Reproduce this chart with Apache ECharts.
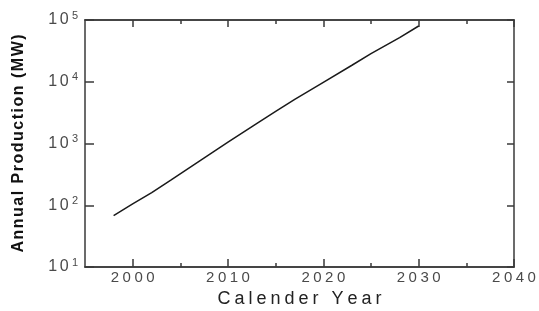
<!DOCTYPE html>
<html lang="en">
<head>
    <meta charset="UTF-8">
    <title>Annual Production</title>
    <script src="https://cdn.jsdelivr.net/npm/echarts@6/dist/echarts.min.js"></script>
    <style>
        html, body { margin: 0; padding: 0; background: #fff; }
        #main { width: 539px; height: 311px; }
    </style>
</head>
<body>
    <div id="main"></div>
    <script>
        // values
        let years = [1998, 2000, 2002, 2004, 2007, 2010, 2013, 2015, 2017, 2020, 2023, 2025, 2028, 2030]
        let production = [68, 105, 160, 255, 520, 1050, 2100, 3300, 5200, 9800, 18500, 28500, 52000, 80000]
        let majorYears = [2000, 2010, 2020, 2030, 2040]
        let minorYears = [2005, 2015, 2025, 2035]

        let axisColor = '#3a3a3a'
        let textColor = '#4a4a4a'
        let font = 'Liberation Sans, Arial, sans-serif'

        // the original text is letter-spaced, so each char gets its own rich fragment
        function spaced(str, style) {
            return str.split('').map(ch => '{' + style + '|' + ch + '}').join('')
        }

        function xAxisOf(pos, ticks, len, labels) {
            return {
                type: 'value', position: pos, min: 1995, max: 2040, interval: 5,
                axisLine: { show: true, onZero: false, lineStyle: { color: axisColor, width: 1.5 } },
                axisTick: { show: true, inside: true, length: len, customValues: ticks, lineStyle: { color: axisColor, width: 1.5 } },
                axisLabel: labels ? {
                    show: true, customValues: majorYears, margin: 3,
                    formatter: v => spaced(String(v), 'd'),
                    rich: { d: { color: textColor, fontSize: 15, fontFamily: font, padding: [0, 1.75, 0, 1.75] } }
                } : { show: false },
                splitLine: { show: false }
            }
        }

        function yAxisOf(pos, labels) {
            return {
                type: 'log', logBase: 10, position: pos, min: 10, max: 100000, interval: 1,
                axisLine: { show: true, lineStyle: { color: axisColor, width: 1.5 } },
                axisTick: { show: true, inside: true, length: pos == 'left' ? 9 : 7, lineStyle: { color: axisColor, width: 1.5 } },
                axisLabel: labels ? {
                    show: true, margin: 7,
                    formatter: v => spaced('10', 'b') + '{s|' + Math.round(Math.log10(v)) + '}',
                    rich: {
                        b: { color: textColor, fontSize: 16, fontFamily: font, padding: [0, 1.25, 0, 1.25] },
                        s: { color: textColor, fontSize: 11, fontFamily: font, padding: [0, 0, 9, 2] }
                    }
                } : { show: false },
                splitLine: { show: false },
                name: labels ? spaced('Annual Production (MW)', 'n') : '',
                nameLocation: 'middle', nameGap: 58,
                nameTextStyle: {
                    rich: { n: { color: '#111', fontSize: 16, fontWeight: 'bold', fontFamily: font, padding: [0, 0.75, 0, 0.75] } }
                }
            }
        }

        let chart = echarts.init(document.getElementById('main'), null, { renderer: 'canvas' })
        let bottomMajor = xAxisOf('bottom', majorYears, 8, true)
        bottomMajor.name = spaced('Calender Year', 'c')
        bottomMajor.nameLocation = 'middle'
        bottomMajor.nameGap = 17
        bottomMajor.nameTextStyle = {
            verticalAlign: 'top',
            rich: { c: { color: '#222', fontSize: 18, fontFamily: font, padding: [0, 2, 0, 2] } }
        }

        chart.setOption({
            animation: false,
            backgroundColor: '#fff',
            grid: { left: 85, top: 20, right: 25, bottom: 44, containLabel: false, outerBoundsMode: 'none' },
            xAxis: [
                bottomMajor,
                xAxisOf('bottom', minorYears, 4, false),
                xAxisOf('top', majorYears, 7, false),
                xAxisOf('top', minorYears, 4, false)
            ],
            yAxis: [yAxisOf('left', true), yAxisOf('right', false)],
            series: [{
                type: 'line',
                data: years.map((y, i) => [y, production[i]]),
                showSymbol: false,
                lineStyle: { color: '#1a1a1a', width: 1.5 }
            }]
        })
    </script>
</body>
</html>
